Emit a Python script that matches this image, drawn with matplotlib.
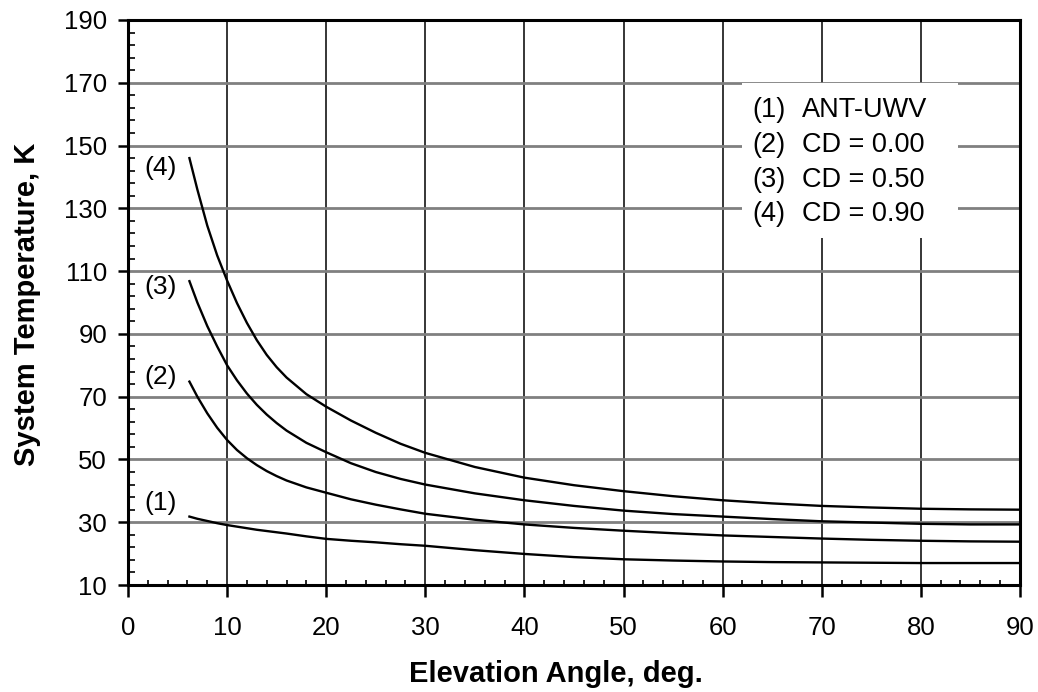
import numpy as np
import matplotlib.pyplot as plt
from matplotlib.ticker import MultipleLocator
from matplotlib.patches import Rectangle

plt.rcParams['font.family'] = ['Liberation Sans', 'DejaVu Sans']

#%% data
elev = [6.2, 7, 8, 9, 10, 11, 12, 13, 14, 15, 16, 18, 20, 22.5, 25, 27.5, 30,
        35, 40, 45, 50, 55, 60, 65, 70, 75, 80, 85, 90]
t_ant = [31.8, 31.1, 30.4, 29.7, 29.1, 28.6, 28.1, 27.6, 27.2, 26.8, 26.4, 25.5,
         24.7, 24.1, 23.6, 23.0, 22.5, 21.1, 19.9, 18.9, 18.2, 17.8, 17.5, 17.3,
         17.2, 17.1, 17.0, 17.0, 17.0]
t_cd000 = [74.8, 70.0, 64.7, 60.1, 56.2, 53.0, 50.4, 48.2, 46.3, 44.7, 43.3, 41.1,
           39.4, 37.3, 35.6, 34.1, 32.7, 30.8, 29.3, 28.2, 27.3, 26.5, 25.8, 25.3,
           24.8, 24.4, 24.1, 23.9, 23.8]
t_cd050 = [106.8, 100.0, 92.5, 86.0, 80.0, 75.2, 71.0, 67.4, 64.3, 61.6, 59.2, 55.3,
           52.3, 48.8, 46.0, 43.8, 42.0, 39.2, 37.0, 35.2, 33.7, 32.6, 31.8, 31.0,
           30.3, 29.9, 29.5, 29.3, 29.3]
t_cd090 = [146.0, 136.0, 124.5, 115.0, 107.0, 99.8, 93.5, 88.0, 83.3, 79.4, 76.1,
           70.8, 66.8, 62.4, 58.5, 55.0, 52.1, 47.6, 44.2, 41.8, 39.9, 38.3, 37.0,
           36.0, 35.2, 34.7, 34.3, 34.1, 34.0]

curve_tags = ['(1)', '(2)', '(3)', '(4)']
legend_names = ['ANT-UWV', 'CD = 0.00', 'CD = 0.50', 'CD = 0.90']

#%% figure
fig = plt.figure(figsize=(10.38, 6.92), dpi=100)
ax = fig.add_axes([0.1233, 0.1546, 0.8593, 0.8165])

for t in [t_ant, t_cd000, t_cd050, t_cd090]:
    ax.plot(elev, t, color='black', lw=1.7, zorder=3)

ax.set_xlim(0, 90)
ax.set_ylim(10, 190)
ax.xaxis.set_major_locator(MultipleLocator(10))
ax.xaxis.set_minor_locator(MultipleLocator(2))
ax.set_yticks(np.arange(10, 191, 20))
ax.set_yticks(np.arange(10, 191, 4), minor=True)

ax.set_axisbelow(True)
ax.grid(axis='x', which='major', color='black', lw=1.1)
ax.grid(axis='y', which='major', color='#808080', lw=2.0)

ax.tick_params(which='major', direction='out', width=1.8, labelsize=18.5)
ax.tick_params(axis='y', which='major', length=7, pad=8)
ax.tick_params(axis='x', which='major', length=8.5, pad=14)
ax.tick_params(axis='y', which='minor', direction='in', length=5, width=1.2)
ax.tick_params(axis='x', which='minor', direction='in', length=3.8, width=1.2)
for s in ax.spines.values():
    s.set_linewidth(2.2)

fig.text(556 / 1038, 1 - 682 / 692, 'Elevation Angle, deg.', fontsize=21,
         fontweight='bold', ha='center', va='baseline')
fig.text(27 / 1038, 1 - 304 / 692, 'System Temperature, K', fontsize=21,
         fontweight='bold', ha='center', va='center', rotation=90)

# curve tags on the left
tag_y = [36.0, 76.4, 105.0, 142.9]
for tag, yy in zip(curve_tags, tag_y):
    ax.text(3.3, yy, tag, fontsize=19, ha='center', va='center', zorder=4)

# legend block, white background hiding the grid
ax.add_patch(Rectangle((62.0, 120.6), 21.7, 49.4, facecolor='white',
                       edgecolor='none', zorder=1))
leg_y = [161.3, 150.2, 139.0, 128.2]
for tag, name, yy in zip(curve_tags, legend_names, leg_y):
    ax.text(63.0, yy, tag, fontsize=19.5, ha='left', va='center', zorder=4)
    ax.text(68.0, yy, name, fontsize=19.5, ha='left', va='center', zorder=4)

fig.savefig('out.png', dpi=100)
